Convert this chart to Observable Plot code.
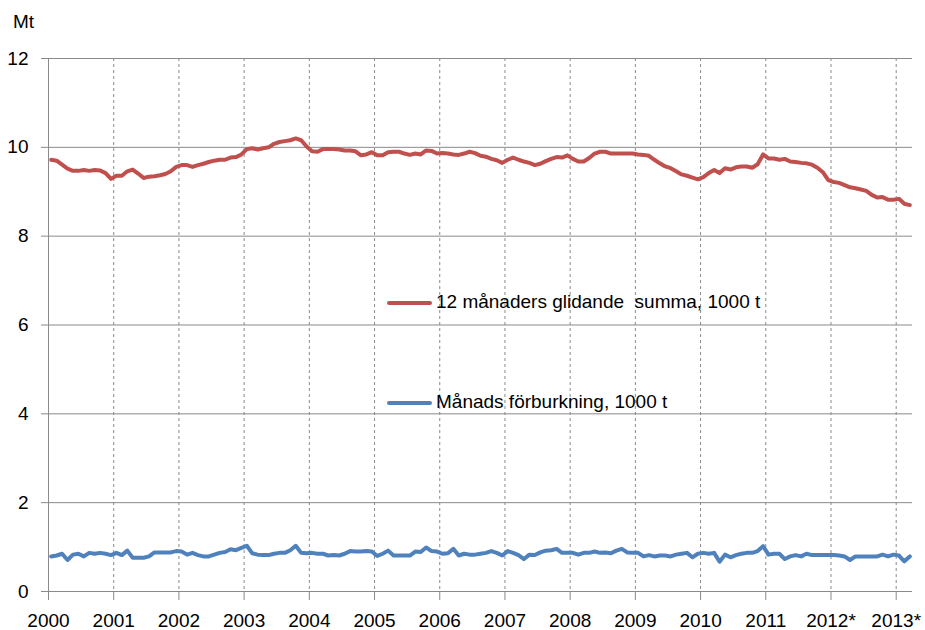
<!DOCTYPE html>
<html>
<head>
<meta charset="utf-8">
<script src="https://cdn.jsdelivr.net/npm/d3@7"></script>
<script src="https://cdn.jsdelivr.net/npm/@observablehq/plot@0.6"></script>
<style>
  html, body { margin: 0; padding: 0; background: #fff; }
  #wrap { position: relative; width: 925px; height: 630px; font-family: "Liberation Sans", Arial, sans-serif; color: #000; }
  .lbl { position: absolute; font-size: 19px; line-height: 19px; white-space: pre; }
  .sw { position: absolute; height: 4px; border-radius: 2px; }
</style>
</head>
<body>
<div id="wrap"></div>
<script>
// 12-month rolling sum (Mt), monthly Jan 2000 – Mar 2013
const rollingSum = [
  9.72, 9.70, 9.61, 9.52, 9.47, 9.47, 9.49, 9.47, 9.49, 9.48,
  9.42, 9.29, 9.36, 9.36, 9.46, 9.50, 9.41, 9.31, 9.34, 9.35,
  9.37, 9.40, 9.46, 9.56, 9.60, 9.60, 9.56, 9.60, 9.63, 9.67,
  9.70, 9.72, 9.72, 9.77, 9.78, 9.84, 9.96, 9.98, 9.95, 9.98,
  10.00, 10.08, 10.12, 10.14, 10.16, 10.20, 10.16, 10.02, 9.91, 9.90,
  9.96, 9.96, 9.96, 9.95, 9.93, 9.93, 9.91, 9.82, 9.84, 9.89,
  9.82, 9.82, 9.89, 9.90, 9.90, 9.86, 9.83, 9.86, 9.84, 9.93,
  9.92, 9.86, 9.87, 9.86, 9.84, 9.83, 9.86, 9.90, 9.87, 9.81,
  9.79, 9.74, 9.71, 9.65, 9.72, 9.77, 9.72, 9.68, 9.65, 9.60,
  9.63, 9.69, 9.74, 9.78, 9.77, 9.82, 9.74, 9.68, 9.68, 9.76,
  9.86, 9.90, 9.90, 9.86, 9.86, 9.86, 9.86, 9.86, 9.84, 9.83,
  9.81, 9.72, 9.64, 9.57, 9.53, 9.46, 9.39, 9.36, 9.32, 9.28,
  9.33, 9.42, 9.49, 9.42, 9.53, 9.50, 9.55, 9.57, 9.57, 9.54,
  9.62, 9.84, 9.75, 9.75, 9.72, 9.74, 9.68, 9.67, 9.65, 9.64,
  9.61, 9.54, 9.44, 9.26, 9.22, 9.20, 9.15, 9.10, 9.08, 9.05,
  9.02, 8.93, 8.87, 8.88, 8.82, 8.82, 8.84, 8.73, 8.70
];
// Monthly consumption (Mt)
const monthly = [
  0.79, 0.81, 0.85, 0.71, 0.83, 0.85, 0.79, 0.87, 0.85, 0.87,
  0.85, 0.82, 0.87, 0.82, 0.92, 0.76, 0.76, 0.76, 0.79, 0.88,
  0.88, 0.88, 0.88, 0.91, 0.90, 0.83, 0.87, 0.82, 0.79, 0.79,
  0.83, 0.87, 0.89, 0.95, 0.93, 0.98, 1.03, 0.86, 0.83, 0.82,
  0.82, 0.85, 0.87, 0.87, 0.93, 1.03, 0.87, 0.86, 0.87, 0.85,
  0.85, 0.81, 0.82, 0.81, 0.85, 0.91, 0.90, 0.90, 0.91, 0.90,
  0.80, 0.85, 0.92, 0.81, 0.81, 0.81, 0.81, 0.90, 0.89, 0.99,
  0.91, 0.90, 0.85, 0.86, 0.96, 0.81, 0.85, 0.83, 0.83, 0.85,
  0.87, 0.91, 0.87, 0.81, 0.91, 0.87, 0.82, 0.73, 0.83, 0.82,
  0.88, 0.92, 0.93, 0.96, 0.87, 0.87, 0.87, 0.83, 0.87, 0.87,
  0.90, 0.87, 0.88, 0.86, 0.92, 0.96, 0.88, 0.87, 0.87, 0.79,
  0.82, 0.79, 0.81, 0.81, 0.79, 0.83, 0.85, 0.87, 0.77, 0.85,
  0.87, 0.85, 0.87, 0.67, 0.83, 0.77, 0.82, 0.85, 0.87, 0.87,
  0.91, 1.02, 0.83, 0.85, 0.85, 0.73, 0.79, 0.82, 0.79, 0.85,
  0.82, 0.82, 0.82, 0.82, 0.82, 0.81, 0.79, 0.71, 0.79, 0.79,
  0.79, 0.79, 0.79, 0.83, 0.79, 0.83, 0.81, 0.68, 0.79
];
const yearLabels = ["2000","2001","2002","2003","2004","2005","2006","2007","2008","2009","2010","2011","2012*","2013*"];
const yTicks = [0, 2, 4, 6, 8, 10, 12];
const seriesNames = ["12 månaders glidande  summa, 1000 t", "Månads förburkning, 1000 t"];
const seriesColors = ["#C0504D", "#4F81BD"];
const yUnit = "Mt";

// category index (months) — each month occupies one slot, point at slot centre
const nSlots = rollingSum.length;
const yearTickPos = yearLabels.map((_, i) => i * 12);
const rows = [];
rollingSum.forEach((v, i) => rows.push({slot: i + 0.5, value: v, series: seriesNames[0]}));
monthly.forEach((v, i) => rows.push({slot: i + 0.5, value: v, series: seriesNames[1]}));

const grid = "#8a8a8a";
const chart = Plot.plot({
  width: 925,
  height: 630,
  marginLeft: 48,
  marginRight: 13,
  marginTop: 58,
  marginBottom: 39,
  style: {fontFamily: "'Liberation Sans', Arial, sans-serif", fontSize: "19px", color: "#000", background: "#fff", overflow: "visible"},
  x: {domain: [0, nSlots]},
  y: {domain: [0, 12]},
  color: {domain: seriesNames, range: seriesColors},
  marks: [
    Plot.ruleX(yearTickPos.slice(1), {stroke: grid, strokeDasharray: "3,3", strokeWidth: 1}),
    Plot.ruleY(yTicks, {stroke: grid, strokeWidth: 1}),
    Plot.ruleX([0], {stroke: grid, strokeWidth: 1}),
    Plot.axisY({ticks: yTicks, tickSize: 7, tickPadding: 13, stroke: grid, fill: "#000", label: null, tickFormat: d => String(d)}),
    Plot.axisX({ticks: yearTickPos, tickSize: 9, tickPadding: 13, stroke: grid, fill: "#000", label: null,
      tickFormat: d => yearLabels[d / 12]}),
    Plot.line(rows, {x: "slot", y: "value", z: "series", stroke: "series", strokeWidth: 4, strokeLinejoin: "round", strokeLinecap: "round"})
  ]
});

const wrap = document.getElementById("wrap");
wrap.appendChild(chart);

// unit label and in-plot legend (HTML overlay)
function addDiv(cls, css, text) {
  const d = document.createElement("div");
  d.className = cls;
  Object.assign(d.style, css);
  if (text != null) d.textContent = text;
  wrap.appendChild(d);
}
addDiv("lbl", {left: "13px", top: "12px"}, yUnit);
const legendTops = [292, 392];
seriesNames.forEach((name, i) => {
  addDiv("sw", {left: "387px", width: "45px", top: (legendTops[i] + 9) + "px", background: seriesColors[i]});
  addDiv("lbl", {left: "436px", top: legendTops[i] + "px"}, name);
});
</script>
</body>
</html>
